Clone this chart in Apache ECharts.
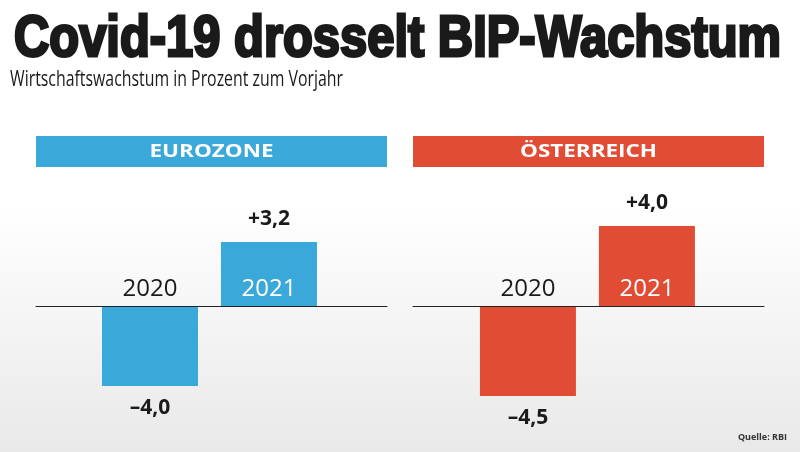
<!DOCTYPE html>
<html>
<head>
<meta charset="utf-8">
<script src="https://cdn.jsdelivr.net/npm/echarts@6/dist/echarts.min.js"></script>
<style>html,body{margin:0;padding:0;background:#fff}#c{width:800px;height:452px}</style>
</head>
<body>
<div id="c"></div>
<script>
// ---- data ----
const years = ['2020', '2021'];
const eurozone = [-4.0, 3.2];
const austria = [-4.5, 4.0];
const panelTitles = ['EUROZONE', 'ÖSTERREICH'];
const titleText = 'Covid-19 drosselt BIP-Wachstum';
const subtitleText = 'Wirtschaftswachstum in Prozent zum Vorjahr';
const sourceText = 'Quelle: RBI';

const BLUE = '#3aa8d8';
const RED = '#e14c35';

const ctx = document.createElement('canvas').getContext('2d');
function fitScale(text, font, target) {
  ctx.font = font;
  return target / ctx.measureText(text).width;
}

const titleFont = 'bold 57px "Liberation Sans"';
const subFont = '22px "Open Sans"';
const headFont = 'bold 18px "Open Sans"';

function fmt(v) {
  return (v > 0 ? '+' : '\u2013') + Math.abs(v).toFixed(1).replace('.', ',');
}

const panels = [
  { values: eurozone, color: BLUE, left: 36, width: 351, min: -0.958, max: 1.992, head: panelTitles[0], headW: 124 },
  { values: austria, color: RED, left: 413, width: 351, min: -0.966, max: 1.984, head: panelTitles[1], headW: 137 }
];

const grids = [], xAxes = [], yAxes = [], series = [], graphics = [];

graphics.push({
  type: 'rect', z: -10, silent: true,
  shape: { x: 0, y: 0, width: 800, height: 452 },
  style: { fill: new echarts.graphic.LinearGradient(0, 0, 0, 1, [
    { offset: 0, color: '#ffffff' }, { offset: 0.45, color: '#ffffff' }, { offset: 1, color: '#e9e9e9' }
  ]) }
});

graphics.push({
  type: 'text', x: 14, y: 40, scaleX: fitScale(titleText, titleFont, 767), scaleY: 1,
  style: { text: titleText, font: titleFont, fill: '#1a1a1a', textVerticalAlign: 'middle', stroke: '#1a1a1a', lineWidth: 3 }
});
graphics.push({
  type: 'text', x: 10, y: 80, scaleX: fitScale(subtitleText, subFont, 333), scaleY: 1,
  style: { text: subtitleText, font: subFont, fill: '#1a1a1a', textVerticalAlign: 'middle' }
});
graphics.push({
  type: 'text', x: 787, y: 437,
  style: { text: sourceText, font: 'bold 9px "Open Sans"', fill: '#333', textAlign: 'right', textVerticalAlign: 'middle' }
});

panels.forEach((p, i) => {
  graphics.push({
    type: 'rect', shape: { x: p.left, y: 136, width: p.width, height: 31 },
    style: { fill: p.color }
  });
  graphics.push({
    type: 'text', x: p.left + p.width / 2, y: 152,
    scaleX: fitScale(p.head, headFont, p.headW), scaleY: 1,
    style: { text: p.head, font: headFont, fill: '#fff', textAlign: 'center', textVerticalAlign: 'middle' }
  });

  grids.push({ left: p.left, width: p.width, top: 186, height: 240 });
  yAxes.push({ type: 'value', gridIndex: i, min: -6, max: 6, show: false });
  xAxes.push({
    type: 'value', gridIndex: i, min: p.min, max: p.max, z: 5,
    axisLine: { show: true, onZero: true, lineStyle: { color: '#222', width: 1 } },
    axisTick: { show: false },
    splitLine: { show: false },
    axisLabel: {
      inside: true, customValues: [0, 1], margin: 125,
      formatter: v => years[Math.round(v)],
      color: v => (Number(v) === 1 ? '#ffffff' : '#1a1a1a'),
      fontFamily: 'Open Sans', fontSize: 24
    }
  });
  series.push({
    type: 'bar', xAxisIndex: i, yAxisIndex: i, barWidth: 96,
    itemStyle: { color: p.color },
    label: {
      show: true, distance: 12, fontFamily: 'Open Sans', fontWeight: 'bold', fontSize: 21, color: '#1a1a1a',
      formatter: prm => fmt(prm.value[1])
    },
    data: p.values.map((v, k) => ({ value: [k, v], label: { position: v >= 0 ? 'top' : 'bottom' } }))
  });
});

const chart = echarts.init(document.getElementById('c'), null, { renderer: 'canvas' });
chart.setOption({
  animation: false,
  grid: grids, xAxis: xAxes, yAxis: yAxes, series: series, graphic: graphics
});
</script>
</body>
</html>
